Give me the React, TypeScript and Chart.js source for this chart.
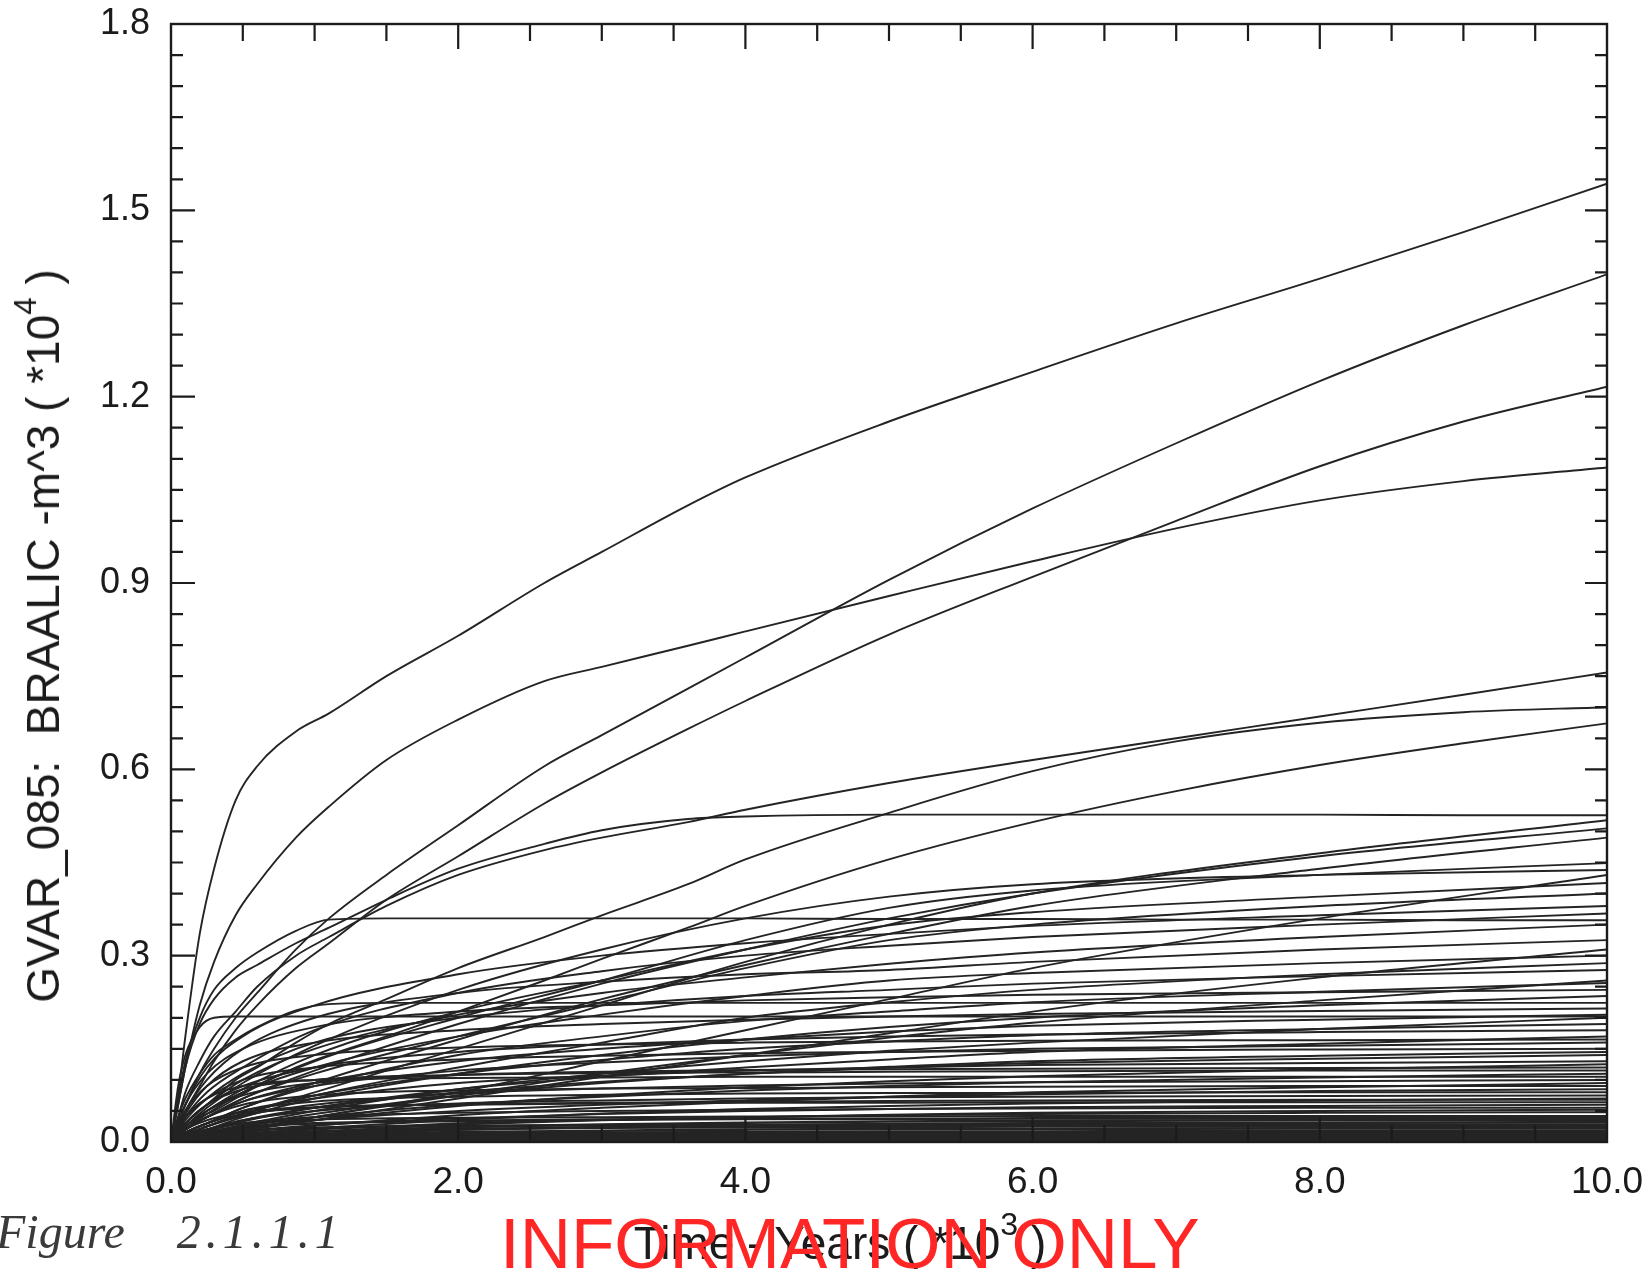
import React, { useEffect, useRef } from "react";
import { Chart, registerables } from "chart.js";

Chart.register(...registerables);

// ---- time grids (x, in thousands of years) ----
const T_UP = [0, 0.05, 0.1, 0.2, 0.3, 0.45, 0.6, 0.87, 1.1, 1.5, 2, 2.6, 3, 3.6, 4, 5, 6, 7, 8, 9, 10];
const T_LOW = [0, 0.1, 0.25, 0.5, 1, 2, 3, 4, 5, 6, 8, 10];

// ---- upper, clearly separated curves (values on T_UP) ----
const CURVE_A = [0, 0.075, 0.17, 0.335, 0.44, 0.55, 0.605, 0.661, 0.69, 0.75, 0.815, 0.9, 0.95, 1.025, 1.07, 1.16, 1.24, 1.318, 1.39, 1.465, 1.543];
const CURVE_B = [0, 0.03, 0.06, 0.11, 0.15, 0.2, 0.24, 0.31, 0.36, 0.43, 0.51, 0.605, 0.655, 0.73, 0.78, 0.905, 1.02, 1.125, 1.225, 1.315, 1.397];
const CURVE_C = [0, 0.025, 0.05, 0.09, 0.13, 0.18, 0.22, 0.28, 0.32, 0.39, 0.46, 0.545, 0.595, 0.665, 0.71, 0.817, 0.91, 1.0, 1.088, 1.16, 1.216];
const CURVE_D = [0, 0.06, 0.12, 0.22, 0.29, 0.365, 0.415, 0.49, 0.54, 0.615, 0.68, 0.742, 0.765, 0.799, 0.822, 0.879, 0.935, 0.988, 1.033, 1.064, 1.086];
const CURVE_F = [0, 0.04, 0.08, 0.13, 0.17, 0.21, 0.25, 0.3, 0.33, 0.38, 0.43, 0.47, 0.49, 0.515, 0.535, 0.578, 0.615, 0.65, 0.685, 0.72, 0.756];
const CURVE_G = [0, 0.02, 0.03, 0.05, 0.07, 0.1, 0.12, 0.16, 0.19, 0.23, 0.28, 0.33, 0.365, 0.415, 0.455, 0.53, 0.597, 0.645, 0.675, 0.692, 0.7];
const CURVE_H = [0, 0.01, 0.02, 0.04, 0.05, 0.07, 0.09, 0.12, 0.14, 0.17, 0.21, 0.26, 0.295, 0.345, 0.38, 0.455, 0.515, 0.565, 0.607, 0.642, 0.674];
const FLAT_052 = [0, 0.06, 0.12, 0.19, 0.23, 0.265, 0.285, 0.32, 0.345, 0.39, 0.44, 0.48, 0.502, 0.52, 0.524, 0.527, 0.527, 0.527, 0.527, 0.526, 0.526];
const FLAT_036 = [0, 0.07, 0.13, 0.2, 0.245, 0.28, 0.305, 0.34, 0.358, 0.36, 0.36, 0.36, 0.36, 0.36, 0.36, 0.359, 0.359, 0.358, 0.358, 0.357, 0.357];
const FLAT_0224 = [0, 0.04, 0.07, 0.11, 0.14, 0.165, 0.185, 0.212, 0.222, 0.224, 0.224, 0.224, 0.224, 0.224, 0.224, 0.224, 0.224, 0.224, 0.224, 0.224, 0.224];
const FLAT_0202 = [0, 0.09, 0.14, 0.185, 0.2, 0.202, 0.202, 0.202, 0.202, 0.202, 0.202, 0.202, 0.202, 0.202, 0.202, 0.202, 0.202, 0.202, 0.202, 0.202, 0.202];

const UPPER_SERIES = [CURVE_A, CURVE_B, CURVE_C, CURVE_D, CURVE_F, CURVE_G, CURVE_H, FLAT_052, FLAT_036, FLAT_0224, FLAT_0202];

// ---- middle band (values on T_LOW) ----
const MID_SERIES = [
  [0, 0.01, 0.025, 0.045, 0.08, 0.15, 0.22, 0.29, 0.35, 0.4, 0.465, 0.518],
  [0, 0.02, 0.04, 0.07, 0.115, 0.19, 0.255, 0.31, 0.36, 0.4, 0.46, 0.505],
  [0, 0.015, 0.03, 0.055, 0.095, 0.165, 0.23, 0.285, 0.335, 0.38, 0.44, 0.49],
  [0, 0.025, 0.055, 0.095, 0.155, 0.245, 0.31, 0.36, 0.395, 0.415, 0.43, 0.438],
  [0, 0.02, 0.045, 0.08, 0.13, 0.2, 0.26, 0.325, 0.377, 0.405, 0.43, 0.449],
  [0, 0.025, 0.05, 0.085, 0.14, 0.21, 0.26, 0.31, 0.349, 0.37, 0.395, 0.417],
  [0, 0.02, 0.04, 0.07, 0.11, 0.17, 0.225, 0.28, 0.325, 0.35, 0.38, 0.4],
  [0, 0.04, 0.08, 0.12, 0.18, 0.24, 0.275, 0.3, 0.316, 0.33, 0.35, 0.368],
  [0, 0.03, 0.06, 0.1, 0.15, 0.205, 0.24, 0.265, 0.287, 0.305, 0.33, 0.35],
  [0, 0.05, 0.1, 0.15, 0.2, 0.24, 0.258, 0.27, 0.277, 0.29, 0.31, 0.325],
  [0, 0.02, 0.05, 0.08, 0.12, 0.17, 0.205, 0.235, 0.26, 0.272, 0.288, 0.3],
  [0, 0.01, 0.025, 0.045, 0.075, 0.12, 0.16, 0.2, 0.225, 0.245, 0.27, 0.288],
  [0, 0.035, 0.07, 0.11, 0.16, 0.2, 0.22, 0.235, 0.245, 0.255, 0.267, 0.277],
  [0, 0.015, 0.03, 0.055, 0.09, 0.14, 0.17, 0.195, 0.21, 0.225, 0.242, 0.256],
  [0, 0.06, 0.11, 0.15, 0.185, 0.21, 0.22, 0.228, 0.233, 0.237, 0.241, 0.245],
  [0, 0.006, 0.015, 0.028, 0.05, 0.085, 0.11, 0.13, 0.147, 0.16, 0.182, 0.2],
  [0, 0.004, 0.01, 0.02, 0.04, 0.075, 0.11, 0.14, 0.168, 0.192, 0.228, 0.26],
  [0, 0.003, 0.008, 0.018, 0.035, 0.07, 0.105, 0.14, 0.175, 0.21, 0.265, 0.31],
  [0, 0.004, 0.01, 0.02, 0.04, 0.08, 0.13, 0.18, 0.23, 0.28, 0.36, 0.43],
  [0, 0.06, 0.12, 0.17, 0.22, 0.27, 0.3, 0.32, 0.335, 0.348, 0.365, 0.38],
];

// ---- dense low band (values on T_LOW) ----
const LOW_SERIES = [
  [0, 0.01, 0.02, 0.04, 0.07, 0.11, 0.14, 0.165, 0.185, 0.2, 0.22, 0.235],
  [0, 0.045, 0.09, 0.13, 0.16, 0.18, 0.19, 0.197, 0.202, 0.206, 0.211, 0.215],
  [0, 0.02, 0.04, 0.065, 0.095, 0.13, 0.15, 0.165, 0.178, 0.187, 0.197, 0.205],
  [0, 0.012, 0.025, 0.045, 0.075, 0.11, 0.132, 0.15, 0.162, 0.172, 0.182, 0.19],
  [0, 0.03, 0.06, 0.09, 0.12, 0.145, 0.157, 0.165, 0.17, 0.173, 0.177, 0.18],
  [0, 0.008, 0.018, 0.033, 0.055, 0.085, 0.105, 0.12, 0.133, 0.145, 0.158, 0.17],
  [0, 0.05, 0.09, 0.12, 0.14, 0.152, 0.157, 0.16, 0.162, 0.163, 0.164, 0.165],
  [0, 0.02, 0.04, 0.065, 0.09, 0.115, 0.128, 0.138, 0.145, 0.15, 0.155, 0.16],
  [0, 0.04, 0.07, 0.1, 0.12, 0.133, 0.139, 0.143, 0.145, 0.147, 0.149, 0.15],
  [0, 0.006, 0.014, 0.026, 0.045, 0.075, 0.095, 0.11, 0.121, 0.13, 0.139, 0.145],
  [0, 0.01, 0.02, 0.035, 0.055, 0.08, 0.097, 0.11, 0.12, 0.127, 0.134, 0.14],
  [0, 0.015, 0.03, 0.05, 0.07, 0.095, 0.107, 0.115, 0.12, 0.124, 0.127, 0.13],
  [0, 0.004, 0.01, 0.02, 0.035, 0.058, 0.075, 0.088, 0.098, 0.106, 0.117, 0.125],
  [0, 0.025, 0.05, 0.075, 0.095, 0.108, 0.113, 0.116, 0.117, 0.118, 0.119, 0.12],
  [0, 0.03, 0.06, 0.085, 0.1, 0.108, 0.111, 0.112, 0.113, 0.114, 0.115, 0.115],
  [0, 0.006, 0.014, 0.025, 0.04, 0.06, 0.073, 0.083, 0.09, 0.096, 0.104, 0.11],
  [0, 0.04, 0.07, 0.09, 0.1, 0.103, 0.104, 0.105, 0.105, 0.105, 0.105, 0.105],
  [0, 0.012, 0.025, 0.042, 0.06, 0.078, 0.086, 0.091, 0.094, 0.096, 0.098, 0.1],
  [0, 0.003, 0.008, 0.015, 0.026, 0.043, 0.055, 0.065, 0.073, 0.08, 0.088, 0.095],
  [0, 0.02, 0.04, 0.06, 0.075, 0.083, 0.086, 0.087, 0.088, 0.089, 0.09, 0.09],
  [0, 0.005, 0.012, 0.022, 0.035, 0.05, 0.06, 0.067, 0.073, 0.077, 0.082, 0.085],
  [0, 0.015, 0.03, 0.05, 0.065, 0.073, 0.076, 0.078, 0.079, 0.079, 0.08, 0.08],
  [0, 0.01, 0.02, 0.035, 0.05, 0.062, 0.067, 0.07, 0.072, 0.073, 0.074, 0.075],
  [0, 0.003, 0.007, 0.013, 0.022, 0.036, 0.046, 0.053, 0.058, 0.062, 0.067, 0.07],
  [0, 0.015, 0.03, 0.045, 0.055, 0.061, 0.063, 0.065, 0.066, 0.067, 0.068, 0.068],
  [0, 0.02, 0.035, 0.048, 0.056, 0.06, 0.062, 0.063, 0.063, 0.064, 0.064, 0.064],
  [0, 0.004, 0.009, 0.017, 0.027, 0.038, 0.045, 0.05, 0.053, 0.056, 0.058, 0.06],
  [0, 0.008, 0.018, 0.03, 0.04, 0.047, 0.05, 0.052, 0.053, 0.054, 0.055, 0.055],
  [0, 0.002, 0.005, 0.01, 0.017, 0.028, 0.035, 0.04, 0.044, 0.047, 0.05, 0.052],
  [0, 0.003, 0.007, 0.013, 0.02, 0.03, 0.036, 0.04, 0.043, 0.045, 0.047, 0.048],
  [0, 0.01, 0.02, 0.03, 0.036, 0.039, 0.04, 0.041, 0.041, 0.042, 0.042, 0.042],
  [0, 0.008, 0.016, 0.024, 0.03, 0.034, 0.036, 0.037, 0.037, 0.038, 0.038, 0.038],
  [0, 0.002, 0.005, 0.01, 0.016, 0.024, 0.028, 0.031, 0.033, 0.034, 0.035, 0.035],
  [0, 0.002, 0.004, 0.008, 0.013, 0.02, 0.024, 0.027, 0.029, 0.03, 0.031, 0.032],
  [0, 0.006, 0.012, 0.018, 0.023, 0.026, 0.027, 0.027, 0.028, 0.028, 0.028, 0.028],
  [0, 0.004, 0.008, 0.013, 0.017, 0.021, 0.023, 0.024, 0.024, 0.025, 0.025, 0.025],
  [0, 0.002, 0.004, 0.008, 0.012, 0.016, 0.018, 0.02, 0.021, 0.021, 0.022, 0.022],
  [0, 0.002, 0.004, 0.007, 0.01, 0.013, 0.015, 0.016, 0.017, 0.017, 0.018, 0.018],
  [0, 0.003, 0.006, 0.009, 0.012, 0.013, 0.014, 0.014, 0.015, 0.015, 0.015, 0.015],
  [0, 0.002, 0.004, 0.006, 0.008, 0.01, 0.011, 0.011, 0.012, 0.012, 0.012, 0.012],
  [0, 0.001, 0.003, 0.005, 0.007, 0.008, 0.009, 0.009, 0.01, 0.01, 0.01, 0.01],
  [0, 0.001, 0.002, 0.004, 0.005, 0.006, 0.007, 0.007, 0.007, 0.007, 0.007, 0.007],
  [0, 0.001, 0.002, 0.003, 0.004, 0.005, 0.005, 0.005, 0.005, 0.005, 0.005, 0.005],
  [0, 0.001, 0.001, 0.002, 0.002, 0.003, 0.003, 0.003, 0.003, 0.003, 0.003, 0.003],
  [0, 0.001, 0.001, 0.001, 0.001, 0.001, 0.001, 0.001, 0.001, 0.001, 0.001, 0.001],
];

// ---- axis ticks ----
const X_LABEL_STEP = 2;
const Y_LABEL_STEP = 0.3;
const X_MINOR_STEP = 0.5;
const Y_MINOR_STEP = 0.05;

const LINE_COLOR = "#242424";
const INK = "#1b1b1b";
const FONT = '"Liberation Sans", Arial, Helvetica, sans-serif';

function toPoints(times: number[], vals: number[]) {
  return times.map((t, i) => ({ x: t, y: vals[i] }));
}

const frameTicks = {
  id: "frameTicks",
  afterDatasetsDraw(chart: any) {
    const { ctx, chartArea, scales } = chart;
    const { left, right, top, bottom } = chartArea;
    const xs = scales.x;
    const ys = scales.y;
    ctx.save();
    ctx.strokeStyle = INK;
    ctx.lineWidth = 2.4;
    ctx.lineCap = "butt";
    ctx.strokeRect(left, top, right - left, bottom - top);
    ctx.lineWidth = 2.2;
    ctx.beginPath();
    for (let k = 1; k < 20; k++) {
      const t = k * X_MINOR_STEP;
      const px = xs.getPixelForValue(t);
      const major = k % 4 === 0;
      const len = major ? 25 : 17;
      ctx.moveTo(px, top);
      ctx.lineTo(px, top + len);
      ctx.moveTo(px, bottom);
      ctx.lineTo(px, bottom - len);
    }
    for (let k = 1; k < 36; k++) {
      const v = k * Y_MINOR_STEP;
      const py = ys.getPixelForValue(v);
      const major = k % 6 === 0;
      const lenL = major ? 24 : 12;
      const lenR = major ? 22 : 12;
      ctx.moveTo(left, py);
      ctx.lineTo(left + lenL, py);
      ctx.moveTo(right, py);
      ctx.lineTo(right - lenR, py);
    }
    ctx.stroke();
    ctx.restore();
  },
};

export default function App() {
  const canvasRef = useRef<HTMLCanvasElement | null>(null);

  useEffect(() => {
    const canvas = canvasRef.current;
    if (!canvas) return;
    const datasets: any[] = [];
    UPPER_SERIES.forEach((vals) => {
      datasets.push({ data: toPoints(T_UP, vals), borderColor: LINE_COLOR, borderWidth: 1.9 });
    });
    MID_SERIES.forEach((vals) => {
      datasets.push({ data: toPoints(T_LOW, vals), borderColor: LINE_COLOR, borderWidth: 1.9 });
    });
    LOW_SERIES.forEach((vals) => {
      const end = vals[vals.length - 1];
      datasets.push({ data: toPoints(T_LOW, vals), borderColor: LINE_COLOR, borderWidth: end < 0.04 ? 2.6 : 2.0 });
    });
    datasets.forEach((d) => {
      d.pointRadius = 0;
      d.fill = false;
      d.cubicInterpolationMode = "monotone";
    });

    const chart = new Chart(canvas, {
      type: "line",
      data: { datasets },
      options: {
        responsive: false,
        animation: false,
        devicePixelRatio: 1,
        events: [],
        layout: { padding: { left: 0, right: 43, top: 24, bottom: 0 } },
        plugins: { legend: { display: false }, tooltip: { enabled: false }, title: { display: false } },
        scales: {
          x: {
            type: "linear",
            min: 0,
            max: 10,
            border: { display: false },
            grid: { display: false, drawTicks: false },
            ticks: {
              stepSize: X_LABEL_STEP,
              padding: 19,
              color: INK,
              font: { family: FONT, size: 37 },
              maxRotation: 0,
              autoSkip: false,
              callback: (v: any) => Number(v).toFixed(1),
            },
            afterFit: (s: any) => {
              s.height = 127;
              s.paddingLeft = 0;
              s.paddingRight = 0;
            },
          },
          y: {
            type: "linear",
            min: 0,
            max: 1.8,
            border: { display: false },
            grid: { display: false, drawTicks: false },
            ticks: {
              stepSize: Y_LABEL_STEP,
              padding: 21,
              color: INK,
              font: { family: FONT, size: 36 },
              autoSkip: false,
              callback: (v: any) => Number(v).toFixed(1),
            },
            afterFit: (s: any) => {
              s.width = 171;
              s.paddingTop = 0;
              s.paddingBottom = 0;
            },
          },
        },
      },
      plugins: [frameTicks],
    } as any);
    return () => chart.destroy();
  }, []);

  return (
    <div
      style={{
        position: "absolute",
        left: 0,
        top: 0,
        width: 1650,
        height: 1269,
        overflow: "hidden",
        background: "#ffffff",
      }}
    >
      <canvas ref={canvasRef} width={1650} height={1269} style={{ position: "absolute", left: 0, top: 0, width: 1650, height: 1269 }} />
      <div
        style={{
          position: "absolute",
          left: 43,
          top: 636,
          transform: "translate(-50%, -50%) rotate(-90deg)",
          whiteSpace: "pre",
          fontFamily: FONT,
          fontSize: 46,
          lineHeight: 1,
          color: INK,
        }}
      >
        GVAR_085:  BRAALIC -m^3 ( *10
        <span style={{ fontSize: "0.68em", position: "relative", top: "-0.72em" }}>4</span> )
      </div>
      <div
        style={{
          position: "absolute",
          left: 840,
          top: 1220,
          transform: "translateX(-50%)",
          whiteSpace: "pre",
          fontFamily: FONT,
          fontSize: 46,
          lineHeight: 1,
          color: INK,
        }}
      >
        Time - Years ( *10
        <span style={{ fontSize: "0.7em", position: "relative", top: "-0.75em" }}>3</span> )
      </div>
      <div
        style={{
          position: "absolute",
          left: -4,
          top: 1208,
          whiteSpace: "pre",
          fontFamily: '"Liberation Serif", "DejaVu Serif", serif',
          fontStyle: "italic",
          fontSize: 48,
          lineHeight: 1,
          color: "#3a3a3a",
        }}
      >
        Figure<span style={{ marginLeft: 52, letterSpacing: 5 }}>2.1.1.1</span>
      </div>
      <div
        style={{
          position: "absolute",
          left: 500,
          top: 1208,
          whiteSpace: "pre",
          fontFamily: FONT,
          fontSize: 71,
          lineHeight: 1,
          color: "rgb(255, 38, 38)",
        }}
      >
        INFORMATION ONLY
      </div>
    </div>
  );
}
